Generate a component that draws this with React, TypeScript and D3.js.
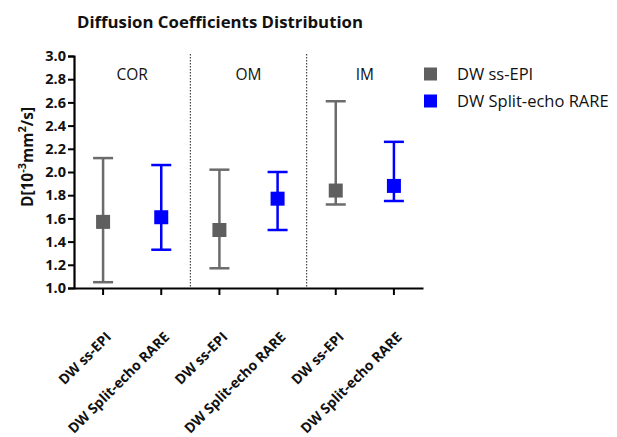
import React, { useRef, useEffect } from 'react';
import * as d3 from 'd3';

const regions = ['COR', 'OM', 'IM'];
const methods = ['DW ss-EPI', 'DW Split-echo RARE'];
const colors = ['#5f5f5f', '#0000ff'];
const barColors = ['#6b6b6b', '#0000ff'];
// mean, low, high per region, per method
const epiMean = [1.57, 1.5, 1.84];
const epiLow = [1.05, 1.17, 1.72];
const epiHigh = [2.12, 2.02, 2.61];
const rareMean = [1.61, 1.77, 1.88];
const rareLow = [1.33, 1.5, 1.75];
const rareHigh = [2.06, 2.0, 2.26];
const yTicks = [1.0, 1.2, 1.4, 1.6, 1.8, 2.0, 2.2, 2.4, 2.6, 2.8, 3.0];

const App = () => {
  const ref = useRef<SVGSVGElement>(null);

  useEffect(() => {
    const svg = d3.select(ref.current);
    svg.selectAll('*').remove();
    const font = "'Open Sans', sans-serif";

    const left = 74;
    const right = 423;
    const top = 56;
    const bottom = 288;

    const rows = regions.flatMap((r, i) => [
      { key: r + '|' + methods[0], m: 0, mean: epiMean[i], lo: epiLow[i], hi: epiHigh[i] },
      { key: r + '|' + methods[1], m: 1, mean: rareMean[i], lo: rareLow[i], hi: rareHigh[i] },
    ]);

    const x = d3.scaleBand().domain(rows.map((d) => d.key)).range([left, right]);
    const y = d3.scaleLinear().domain([1, 3]).range([bottom, top]);

    svg
      .append('text')
      .attr('x', 77)
      .attr('y', 28)
      .attr('font-family', font)
      .attr('font-weight', 'bold')
      .attr('font-size', 16.8)
      .attr('fill', '#111')
      .text('Diffusion Coefficients Distribution');

    // separators
    [2, 4].forEach((i) => {
      const sx = x(rows[i].key)!;
      svg
        .append('line')
        .attr('x1', sx)
        .attr('x2', sx)
        .attr('y1', top - 2)
        .attr('y2', bottom)
        .attr('stroke', '#222')
        .attr('stroke-width', 1)
        .attr('stroke-dasharray', '1.5,1.5');
    });

    regions.forEach((r, i) => {
      const cx = x(rows[i * 2].key)! + x.bandwidth();
      svg
        .append('text')
        .attr('x', cx)
        .attr('y', 80)
        .attr('text-anchor', 'middle')
        .attr('font-family', font)
        .attr('font-size', 15.5)
        .attr('fill', '#111')
        .text(r);
    });

    // y axis
    const yAxis = svg
      .append('g')
      .attr('transform', `translate(${left},0)`)
      .call(d3.axisLeft(y).tickValues(yTicks).tickFormat(d3.format('.1f')).tickSize(6).tickPadding(2));
    yAxis.select('.domain').attr('stroke', '#000').attr('stroke-width', 2.2);
    yAxis.selectAll('.tick line').attr('stroke', '#000').attr('stroke-width', 2);
    yAxis
      .selectAll('.tick text')
      .attr('font-family', font)
      .attr('font-weight', 'bold')
      .attr('font-size', 14.5)
      .attr('fill', '#111');

    // x axis
    const xAxis = svg
      .append('g')
      .attr('transform', `translate(0,${bottom})`)
      .call(d3.axisBottom(x).tickSize(7).tickSizeOuter(0).tickFormat(() => ''));
    xAxis.select('.domain').attr('stroke', '#000').attr('stroke-width', 2.2);
    xAxis.selectAll('.tick line').attr('stroke', '#000').attr('stroke-width', 2);

    rows.forEach((d) => {
      const tx = x(d.key)! + x.bandwidth() / 2;
      svg
        .append('text')
        .attr('transform', `translate(${tx + 9},${bottom + 50}) rotate(-45)`)
        .attr('text-anchor', 'end')
        .attr('font-family', font)
        .attr('font-weight', 'bold')
        .attr('font-size', 14)
        .attr('fill', '#111')
        .text(methods[d.m]);
    });

    // error bars
    const cap = 10;
    const g = svg.append('g');
    rows.forEach((d) => {
      const cx = x(d.key)! + x.bandwidth() / 2;
      const c = barColors[d.m];
      g.append('line')
        .attr('x1', cx)
        .attr('x2', cx)
        .attr('y1', y(d.lo))
        .attr('y2', y(d.hi))
        .attr('stroke', c)
        .attr('stroke-width', 2.5);
      [d.lo, d.hi].forEach((v) => {
        g.append('line')
          .attr('x1', cx - cap)
          .attr('x2', cx + cap)
          .attr('y1', y(v))
          .attr('y2', y(v))
          .attr('stroke', c)
          .attr('stroke-width', 2.5);
      });
      g.append('rect')
        .attr('x', cx - 7)
        .attr('y', y(d.mean) - 7)
        .attr('width', 14)
        .attr('height', 14)
        .attr('fill', colors[d.m]);
    });

    // legend
    methods.forEach((m, i) => {
      const ly = 74 + i * 27;
      svg
        .append('rect')
        .attr('x', 424)
        .attr('y', ly - 6.5)
        .attr('width', 13)
        .attr('height', 13)
        .attr('fill', colors[i]);
      svg
        .append('text')
        .attr('x', 457)
        .attr('y', ly + 6)
        .attr('font-family', font)
        .attr('font-size', 16.5)
        .attr('fill', '#111')
        .text(m);
    });

    // y label
    const yl = svg
      .append('text')
      .attr('transform', `translate(33,157) rotate(-90)`)
      .attr('text-anchor', 'middle')
      .attr('font-family', font)
      .attr('font-weight', 'bold')
      .attr('font-size', 15.5)
      .attr('fill', '#111');
    yl.append('tspan').text('D[10');
    yl.append('tspan').attr('dy', -7).attr('font-size', 11).text('-3');
    yl.append('tspan').attr('dy', 7).text('mm');
    yl.append('tspan').attr('dy', -7).attr('font-size', 11).text('2');
    yl.append('tspan').attr('dy', 7).text('/s]');
  }, []);

  return <svg ref={ref} width={617} height={437} style={{ display: 'block', position: 'absolute', left: 0, top: 0 }} />;
};

export default App;
